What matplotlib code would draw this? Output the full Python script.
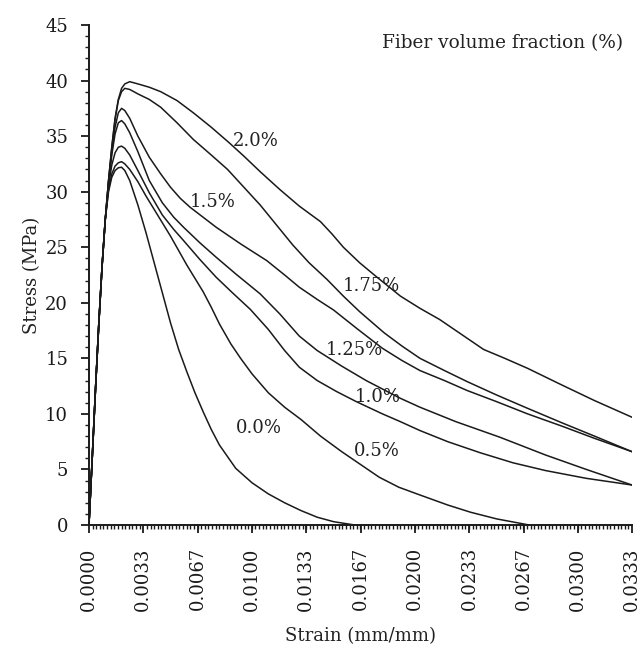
import matplotlib
matplotlib.use("Agg")
import matplotlib.pyplot as plt
from matplotlib.ticker import MultipleLocator, FixedLocator

plt.rcParams['font.family'] = ['DejaVu Serif']

# ---- data (strain mm/mm, stress MPa) ----
rise_x = [0, 0.0002, 0.0004, 0.0006, 0.0008, 0.0010]
rise_y = [0, 6.0, 12.2, 18.0, 23.2, 27.5]

strain_00 = rise_x + [0.0012, 0.0014, 0.0016, 0.0018, 0.0020, 0.0022, 0.0025, 0.0030, 0.0035,
                     0.0040, 0.0045, 0.0050, 0.0055, 0.0060, 0.0065, 0.0070, 0.0075, 0.0080,
                     0.0090, 0.0100, 0.0110, 0.0120, 0.0130, 0.0140, 0.0150, 0.0163]
stress_00 = rise_y + [30.0, 31.3, 31.9, 32.15, 32.2, 31.9, 31.0, 28.8, 26.3,
                     23.6, 20.9, 18.2, 15.8, 13.8, 11.9, 10.2, 8.6, 7.2,
                     5.1, 3.8, 2.8, 2.0, 1.3, 0.7, 0.3, 0.0]

strain_05 = rise_x + [0.0012, 0.0014, 0.0016, 0.0018, 0.0020, 0.0022, 0.0025, 0.0030, 0.0035,
                     0.0040, 0.0045, 0.0050, 0.0055, 0.0060, 0.0065, 0.0070, 0.0075, 0.0080,
                     0.0087, 0.0093, 0.0100, 0.0110, 0.0120, 0.0130, 0.0142, 0.0155, 0.0165,
                     0.0178, 0.0190, 0.0203, 0.0220, 0.0234, 0.0250, 0.0270]
stress_05 = rise_y + [30.2, 31.6, 32.3, 32.6, 32.7, 32.5, 32.0, 30.9, 29.6,
                     28.4, 27.2, 26.0, 24.7, 23.4, 22.2, 21.0, 19.6, 18.1,
                     16.3, 15.0, 13.6, 11.9, 10.6, 9.5, 8.0, 6.6, 5.6,
                     4.3, 3.4, 2.7, 1.8, 1.15, 0.55, 0.0]

strain_10 = rise_x + [0.0012, 0.0014, 0.0016, 0.0018, 0.0020, 0.0022, 0.0025, 0.0030, 0.0037,
                     0.0045, 0.0052, 0.0058, 0.0068, 0.0078, 0.0088, 0.0099, 0.0110, 0.0120,
                     0.0129, 0.0140, 0.0152, 0.0164, 0.0180, 0.0191, 0.0203, 0.0220, 0.0240,
                     0.0260, 0.0280, 0.0305, 0.0333]
stress_10 = rise_y + [30.5, 32.4, 33.5, 34.0, 34.1, 33.9, 33.3, 31.9, 29.9,
                     27.9, 26.6, 25.6, 23.9, 22.3, 20.9, 19.4, 17.6, 15.7,
                     14.2, 13.0, 12.0, 11.1, 10.0, 9.3, 8.5, 7.5, 6.5,
                     5.6, 4.9, 4.2, 3.6]

strain_125 = rise_x + [0.0012, 0.0014, 0.0016, 0.0018, 0.0020, 0.0022, 0.0025, 0.0030, 0.0037,
                      0.0045, 0.0052, 0.0058, 0.0068, 0.0078, 0.0090, 0.0105, 0.0117, 0.0129,
                      0.0140, 0.0155, 0.0170, 0.0191, 0.0203, 0.0225, 0.0252, 0.0280, 0.0305,
                      0.0333]
stress_125 = rise_y + [30.8, 33.3, 35.2, 36.2, 36.4, 36.1, 35.3, 33.6, 31.0,
                      29.0, 27.7, 26.8, 25.4, 24.1, 22.6, 20.8, 19.0, 17.0,
                      15.7, 14.3, 13.0, 11.4, 10.6, 9.3, 7.9, 6.3, 5.0,
                      3.6]

strain_15 = rise_x + [0.0012, 0.0014, 0.0016, 0.0018, 0.0020, 0.0022, 0.0025, 0.0030, 0.0037,
                     0.0044, 0.0050, 0.0056, 0.0062, 0.0070, 0.0078, 0.0093, 0.0109, 0.0120,
                     0.0129, 0.0140, 0.0150, 0.0165, 0.0180, 0.0192, 0.0203, 0.0218, 0.0232,
                     0.0250, 0.0269, 0.0290, 0.0310, 0.0333]
stress_15 = rise_y + [30.9, 33.6, 35.8, 37.1, 37.5, 37.3, 36.6, 35.0, 33.1,
                     31.6, 30.4, 29.4, 28.6, 27.7, 26.8, 25.3, 23.8, 22.5,
                     21.4, 20.3, 19.35, 17.6, 15.9, 14.8, 13.9, 13.0, 12.1,
                     11.1, 10.0, 8.9, 7.8, 6.6]

strain_175 = rise_x + [0.0012, 0.0014, 0.0016, 0.0018, 0.0020, 0.0022, 0.0025, 0.0030, 0.0037,
                      0.0044, 0.0054, 0.0064, 0.0075, 0.0085, 0.0095, 0.0105, 0.0115, 0.0125,
                      0.0135, 0.0146, 0.0156, 0.0166, 0.0181, 0.0192, 0.0203, 0.0218, 0.0232,
                      0.0250, 0.0269, 0.0290, 0.0310, 0.0333]
stress_175 = rise_y + [31.0, 34.0, 36.5, 38.2, 39.0, 39.3, 39.2, 38.8, 38.3,
                      37.6, 36.2, 34.7, 33.3, 32.0, 30.4, 28.8, 27.0, 25.2,
                      23.6, 22.1, 20.6, 19.2, 17.3, 16.1, 15.0, 13.9, 12.9,
                      11.7, 10.5, 9.2, 8.0, 6.6]

strain_20 = rise_x + [0.0012, 0.0014, 0.0016, 0.0018, 0.0020, 0.0022, 0.0025, 0.0030, 0.0037,
                     0.0044, 0.0054, 0.0064, 0.0075, 0.0086, 0.0095, 0.0105, 0.0117, 0.0129,
                     0.0142, 0.0149, 0.0156, 0.0166, 0.0175, 0.0191, 0.0203, 0.0215, 0.0228,
                     0.0242, 0.0255, 0.0269, 0.0290, 0.0310, 0.0333]
stress_20 = rise_y + [31.0, 34.0, 36.6, 38.3, 39.3, 39.7, 39.9, 39.7, 39.4,
                     39.0, 38.2, 37.1, 35.8, 34.4, 33.2, 31.8, 30.2, 28.7,
                     27.3, 26.2, 25.0, 23.6, 22.5, 20.6, 19.5, 18.5, 17.2,
                     15.8, 15.0, 14.1, 12.6, 11.2, 9.7]

series = [
    (strain_00, stress_00), (strain_05, stress_05), (strain_10, stress_10),
    (strain_125, stress_125), (strain_15, stress_15), (strain_175, stress_175),
    (strain_20, stress_20),
]

curve_labels = ["2.0%", "1.5%", "1.75%", "1.25%", "1.0%", "0.5%", "0.0%"]
label_x = [0.01024, 0.0076, 0.0173, 0.01625, 0.01772, 0.01766, 0.01042]
label_y = [34.56, 29.07, 21.5, 15.75, 11.52, 6.66, 8.73]

xtick_values = [0.0, 0.00333, 0.00667, 0.0100, 0.01333, 0.01667, 0.0200, 0.02333, 0.02667, 0.0300, 0.0333]
xtick_labels = ["0.0000", "0.0033", "0.0067", "0.0100", "0.0133", "0.0167",
                "0.0200", "0.0233", "0.0267", "0.0300", "0.0333"]
ytick_values = [0, 5, 10, 15, 20, 25, 30, 35, 40, 45]

fig = plt.figure(figsize=(6.4, 6.48), dpi=100)
ax = fig.add_axes([0.139, 0.1898, 0.8485, 0.7716])

for sx, sy in series:
    ax.plot(sx, sy, color="#1a1a1a", lw=1.1, solid_joinstyle="round")

for t, lx, ly in zip(curve_labels, label_x, label_y):
    ax.text(lx, ly, t, fontsize=13, ha="center", va="center", color="#222222")

ax.text(0.983, 0.964, "Fiber volume fraction (%)", transform=ax.transAxes,
        fontsize=13.3, ha="right", va="center", color="#222222")

ax.set_xlim(0, 0.0333)
ax.set_ylim(0, 45)
ax.xaxis.set_major_locator(FixedLocator(xtick_values))
ax.set_xticklabels(xtick_labels, rotation=90)
ax.xaxis.set_minor_locator(MultipleLocator(0.0333 / 150))
ax.yaxis.set_major_locator(FixedLocator(ytick_values))
ax.yaxis.set_minor_locator(MultipleLocator(1))

for s in ["top", "right"]:
    ax.spines[s].set_visible(False)
for s in ["left", "bottom"]:
    ax.spines[s].set_linewidth(1.4)
    ax.spines[s].set_color("#1a1a1a")

ax.tick_params(axis="both", which="major", direction="out", length=6, width=1.3,
               labelsize=13, colors="#1a1a1a", pad=7)
ax.tick_params(axis="both", which="minor", direction="out", length=3, width=1.0,
               colors="#1a1a1a")
ax.tick_params(axis="y", which="major", pad=9)
ax.tick_params(axis="x", which="major", pad=10)

ax.set_xlabel("Strain (mm/mm)", fontsize=13, color="#222222")
ax.set_ylabel("Stress (MPa)", fontsize=13, color="#222222")
ax.xaxis.set_label_coords(0.5, -0.204)
ax.yaxis.set_label_coords(-0.088, 0.5)

fig.savefig("out.png", dpi=100, facecolor="white")
